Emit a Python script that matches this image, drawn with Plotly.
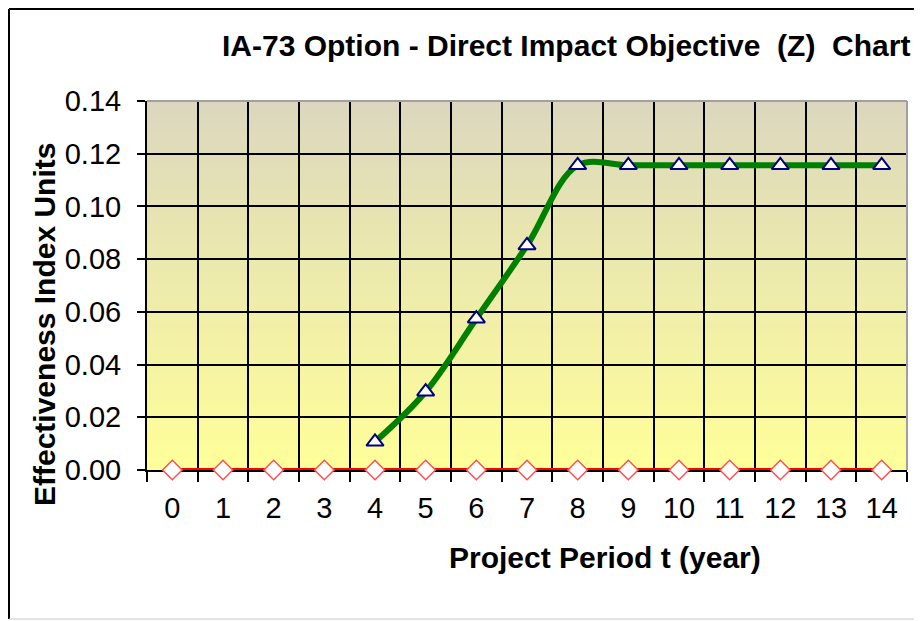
import plotly.graph_objects as go

periods = list(range(0, 15))
z_periods = [4, 5, 6, 7, 8, 9, 10, 11, 12, 13, 14]
z_values = [0.0107, 0.0297, 0.0574, 0.0852, 0.1156, 0.1156, 0.1156, 0.1156, 0.1156, 0.1156, 0.1156]
zero_values = [0.0] * 15
y_ticks = [0.00, 0.02, 0.04, 0.06, 0.08, 0.10, 0.12, 0.14]
x_bounds = [p - 0.5 for p in periods] + [14.5]

OFF = 8  # page body margin
W, H = 922 - OFF, 621 - OFF
L, R, T, B = 147 - OFF, 907 - OFF, 101 - OFF, 470 - OFF
FONT = "Liberation Sans, Arial, sans-serif"

def px_x(px):
    return (px - OFF - L) / (R - L)

def px_y(py):
    return (B - (py - OFF)) / (B - T)

fig = go.Figure()

fig.add_trace(go.Scatter(
    x=periods, y=zero_values, mode="lines+markers",
    line=dict(color="#ff0000", width=4),
    marker=dict(symbol="diamond", size=15, color="white", line=dict(color="#ff5050", width=1.5)),
    cliponaxis=False, showlegend=False))

fig.add_trace(go.Scatter(
    x=z_periods, y=z_values, mode="lines+markers",
    line=dict(color="#008000", width=6, shape="spline", smoothing=1),
    marker=dict(symbol="triangle-up", size=15, color="white", line=dict(color="#000080", width=2)),
    cliponaxis=False, showlegend=False))

# gradient background bands
shapes = []
n = 60
top = (220, 215, 190)
bot = (255, 255, 153)
for i in range(n):
    f = (i + 0.5) / n
    c = tuple(round(bot[k] + (top[k] - bot[k]) * f) for k in range(3))
    shapes.append(dict(type="rect", xref="x domain", yref="y domain",
                       x0=0, x1=1, y0=i / n, y1=(i + 1) / n + 0.002,
                       fillcolor="rgb(%d,%d,%d)" % c, line=dict(width=0), layer="below"))
# plot-area top and right gray borders
shapes.append(dict(type="line", xref="paper", yref="paper", x0=0, x1=1, y0=1, y1=1,
                   line=dict(color="#a0a0a0", width=2)))
shapes.append(dict(type="line", xref="paper", yref="paper", x0=1, x1=1, y0=0, y1=1,
                   line=dict(color="#a0a0a0", width=2)))
# chart frame (drawn at the figure's own edge)
fx0 = px_x(OFF + 1)
fy0 = px_y(OFF + 1)
shapes.append(dict(type="line", xref="paper", yref="paper", x0=fx0, x1=fx0, y0=fy0, y1=px_y(619),
                   line=dict(color="#000000", width=2)))
shapes.append(dict(type="line", xref="paper", yref="paper", x0=fx0, x1=px_x(922), y0=fy0, y1=fy0,
                   line=dict(color="#000000", width=2)))
shapes.append(dict(type="line", xref="paper", yref="paper", x0=fx0, x1=px_x(922), y0=px_y(619), y1=px_y(619),
                   line=dict(color="#c8c8c8", width=1)))

annotations = [
    dict(text="<b>IA-73 Option - Direct Impact Objective  (Z)  Chart</b>", xref="paper", yref="paper",
         x=px_x(566), y=px_y(46), xanchor="center", yanchor="middle", showarrow=False,
         font=dict(family=FONT, size=30, color="black")),
    dict(text="<b>Effectiveness Index Units</b>", xref="paper", yref="paper",
         x=px_x(44), y=px_y(325), xanchor="center", yanchor="middle", showarrow=False, textangle=-90,
         font=dict(family=FONT, size=30, color="black")),
    dict(text="<b>Project Period t (year)</b>", xref="paper", yref="paper",
         x=px_x(605), y=px_y(557), xanchor="center", yanchor="middle", showarrow=False,
         font=dict(family=FONT, size=30, color="black")),
]

fig.update_layout(
    width=W, height=H,
    margin=dict(l=L, r=W - R, t=T, b=H - B, pad=0),
    paper_bgcolor="white", plot_bgcolor="rgba(0,0,0,0)",
    shapes=shapes, annotations=annotations,
    font=dict(family=FONT, color="black"),
)

fig.update_xaxes(
    range=[-0.5, 14.5], tickmode="array", tickvals=periods, ticktext=[str(p) for p in periods],
    ticks="", showgrid=False, zeroline=False, layer="below traces",
    showline=True, linecolor="black", linewidth=2,
    tickfont=dict(family=FONT, size=29, color="black"), ticklabelstandoff=11,
    minor=dict(tickmode="array", tickvals=x_bounds, ticks="outside", ticklen=10, tickwidth=2,
               tickcolor="black", showgrid=True, gridcolor="black", gridwidth=2),
)
fig.update_yaxes(
    range=[0, 0.14], tickmode="array", tickvals=y_ticks, ticktext=["%.2f" % v for v in y_ticks],
    ticks="outside", ticklen=8, tickwidth=2, tickcolor="black", layer="below traces",
    showgrid=True, gridcolor="black", gridwidth=2, zeroline=False,
    showline=True, linecolor="black", linewidth=2,
    tickfont=dict(family=FONT, size=29, color="black"), ticklabelstandoff=10,
)

fig.write_html("out.html")
